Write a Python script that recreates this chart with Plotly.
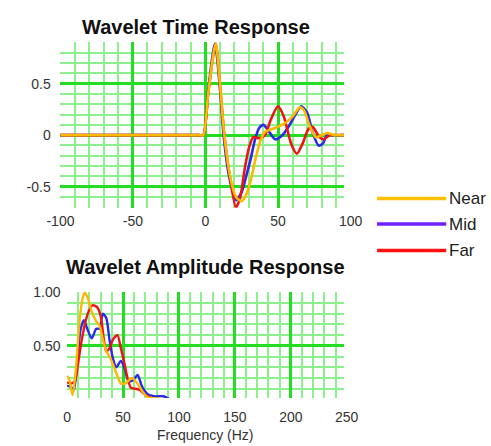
import plotly.graph_objects as go

# ---------------- data ----------------
series_names = ["Near", "Mid", "Far"]

# Wavelet time response (time, amplitude)
t_near = [-100, -60, -20, -8, -4, -1.5, 2, 7, 10, 13, 17, 21, 25, 28, 31, 35, 38, 41, 48, 55, 60, 65, 68, 71, 76, 80, 84, 89, 94, 100]
a_near = [0, 0, 0, 0, 0, 0, 0.42, 0.89, 0.5, 0.0, -0.4, -0.6, -0.64, -0.58, -0.45, -0.2, -0.05, 0.03, 0.07, 0.12, 0.18, 0.27, 0.24, 0.12, -0.02, 0.0, 0.02, 0, 0, 0]

t_mid = [-100, -60, -20, -8, -4, -1.5, 2, 6.5, 10, 12.5, 16, 21, 25, 28, 31, 34, 37, 40, 44, 48, 53, 58, 62, 66, 70, 74, 78, 81, 84, 88, 94, 100]
a_mid = [0, 0, 0, 0, 0, 0, 0.45, 0.89, 0.45, 0.0, -0.38, -0.63, -0.55, -0.4, -0.24, -0.05, 0.07, 0.10, 0.03, -0.04, 0.0, 0.1, 0.2, 0.28, 0.22, 0.02, -0.10, -0.08, 0.01, 0, 0, 0]

t_far = [-100, -60, -20, -8, -4, -1.5, 2, 7, 10, 13, 17, 21, 24, 27, 30, 33, 37, 41, 45, 50, 54, 59, 63, 67, 71, 74, 78, 81, 86, 92, 100]
a_far = [0, 0, 0, 0, 0, 0, 0.42, 0.89, 0.48, 0.0, -0.42, -0.70, -0.6, -0.33, -0.12, -0.02, -0.03, 0.0, 0.15, 0.28, 0.18, -0.08, -0.18, -0.08, 0.06, 0.08, -0.01, -0.04, 0, 0, 0]

# Wavelet amplitude response (frequency Hz, normalized amplitude)
f_near = [0, 2, 5, 8, 11, 14, 16, 19, 22, 26, 29, 32, 35, 38, 42, 45, 48, 52, 58, 62, 67, 72, 80, 90]
s_near = [0.22, 0.18, 0.04, 0.3, 0.72, 0.95, 1.0, 0.93, 0.82, 0.73, 0.69, 0.56, 0.45, 0.40, 0.3, 0.22, 0.15, 0.15, 0.2, 0.16, 0.08, 0.02, 0.01, 0]

f_mid = [0, 3, 6, 9, 12, 15, 18, 22, 26, 29, 32, 35, 38, 41, 44, 48, 51, 55, 59, 63, 67, 72, 78, 86, 92]
s_mid = [0.13, 0.12, 0.09, 0.35, 0.65, 0.74, 0.66, 0.57, 0.66, 0.66, 0.8, 0.76, 0.55, 0.38, 0.3, 0.36, 0.3, 0.17, 0.18, 0.23, 0.12, 0.05, 0.03, 0.03, 0]

f_far = [0, 4, 7, 10, 13, 17, 20, 23, 27, 30, 33, 35, 38, 41, 45, 48, 51, 54, 57, 61, 65, 69, 74, 82]
s_far = [0.16, 0.15, 0.17, 0.35, 0.55, 0.75, 0.84, 0.88, 0.86, 0.78, 0.55, 0.45, 0.48, 0.56, 0.6, 0.48, 0.35, 0.2, 0.11, 0.1, 0.09, 0.05, 0.02, 0]

time_ticks = [-100, -50, 0, 50]
time_tick_extra = 100
amp_ticks = [-0.5, 0, 0.5]
amp_tick_text = ["-0.5", "0", "0.5"]
freq_ticks = [0, 50, 100, 150, 200]
freq_tick_extra = 250
spec_ticks = [0.5, 1.0]
spec_tick_text = ["0.50", "1.00"]

titles = ["Wavelet Time Response", "Wavelet Amplitude Response"]
x_title_bottom = "Frequency (Hz)"

# ---------------- styles ----------------
plot_colors = {"Near": "#ffb800", "Mid": "#2a2ae8", "Far": "#ee1414"}
legend_colors = {"Near": "#ffc000", "Mid": "#7020ff", "Far": "#ff1010"}
major_grid = "#22dd22"
minor_grid = "#8cf08c"
FONT = "Liberation Sans, Arial, sans-serif"
W, H = 491, 446

def px_x(p):
    return p / W

def px_y(p):
    return 1 - p / H

x1_dom, x1_rng = [px_x(48), px_x(340)], [-100.5, 95.5]
x2_dom, x2_rng = [px_x(55), px_x(340)], [-0.5, 247.5]

def data_to_paper(v, dom, rng):
    return dom[0] + (v - rng[0]) / (rng[1] - rng[0]) * (dom[1] - dom[0])

fig = go.Figure()

time_data = {"Near": (t_near, a_near), "Mid": (t_mid, a_mid), "Far": (t_far, a_far)}
freq_data = {"Near": (f_near, s_near), "Mid": (f_mid, s_mid), "Far": (f_far, s_far)}

for name in ["Mid", "Far", "Near"]:
    tx, ty = time_data[name]
    fig.add_trace(go.Scatter(x=tx, y=ty, mode="lines", name=name, showlegend=False,
                             line=dict(color=plot_colors[name], width=2.6, shape="spline", smoothing=0.7),
                             xaxis="x", yaxis="y"))
for name in ["Mid", "Far", "Near"]:
    fx, fy = freq_data[name]
    fig.add_trace(go.Scatter(x=fx, y=fy, mode="lines", name=name, showlegend=False,
                             line=dict(color=plot_colors[name], width=2.4, shape="spline", smoothing=0.7),
                             xaxis="x2", yaxis="y2"))

tickfont = dict(family=FONT, size=14, color="#333333")

fig.update_layout(
    width=W, height=H,
    margin=dict(l=0, r=0, t=0, b=0),
    paper_bgcolor="white", plot_bgcolor="white",
    showlegend=False,
    xaxis=dict(domain=x1_dom, range=x1_rng, anchor="y",
               tickvals=time_ticks, ticktext=[str(v) for v in time_ticks],
               showgrid=True, gridcolor=major_grid, gridwidth=2.5,
               minor=dict(dtick=10, tick0=0, showgrid=True, gridcolor=minor_grid, gridwidth=1.5),
               zeroline=False, showline=False, ticks="", tickfont=tickfont, ticklabelstandoff=3),
    yaxis=dict(domain=[px_y(203.5), px_y(34.5)], range=[-0.705, 0.905], anchor="x",
               tickvals=amp_ticks, ticktext=amp_tick_text,
               showgrid=True, gridcolor=major_grid, gridwidth=2.5,
               minor=dict(dtick=0.1, tick0=0, showgrid=True, gridcolor=minor_grid, gridwidth=1.5),
               zeroline=False, showline=False, ticks="", tickfont=tickfont, ticklabelstandoff=8),
    xaxis2=dict(domain=x2_dom, range=x2_rng, anchor="y2",
                tickvals=freq_ticks, ticktext=[str(v) for v in freq_ticks],
                showgrid=True, gridcolor=major_grid, gridwidth=2.5,
                minor=dict(dtick=10, tick0=0, showgrid=True, gridcolor=minor_grid, gridwidth=1.5),
                zeroline=False, showline=False, ticks="", tickfont=tickfont, ticklabelstandoff=9,
                title=dict(text=x_title_bottom, font=dict(family=FONT, size=14, color="#333333"), standoff=6)),
    yaxis2=dict(domain=[px_y(397), px_y(289)], range=[0.015, 1.005], anchor="x2",
                tickvals=spec_ticks, ticktext=spec_tick_text,
                showgrid=True, gridcolor=major_grid, gridwidth=2.5,
                minor=dict(dtick=0.1, tick0=0, showgrid=True, gridcolor=minor_grid, gridwidth=1.5),
                zeroline=False, showline=False, ticks="", tickfont=tickfont, ticklabelstandoff=5),
)

annotations = [
    dict(text="<b>%s</b>" % titles[0], x=px_x(188), y=px_y(19), xref="paper", yref="paper",
         showarrow=False, xanchor="center", yanchor="middle",
         font=dict(family=FONT, size=20, color="#111111")),
    dict(text="<b>%s</b>" % titles[1], x=px_x(198), y=px_y(264), xref="paper", yref="paper",
         showarrow=False, xanchor="center", yanchor="middle",
         font=dict(family=FONT, size=20, color="#111111")),
    dict(text=str(time_tick_extra), x=data_to_paper(time_tick_extra, x1_dom, x1_rng), xref="paper",
         y=px_y(216.5), yref="paper",
         showarrow=False, xanchor="center", yanchor="middle", font=tickfont),
    dict(text=str(freq_tick_extra), x=data_to_paper(freq_tick_extra, x2_dom, x2_rng), xref="paper",
         y=px_y(416), yref="paper",
         showarrow=False, xanchor="center", yanchor="middle", font=tickfont),
]

shapes = []
legend_y = [194, 220, 247]
for name, ly in zip(series_names, legend_y):
    shapes.append(dict(type="line", xref="paper", yref="paper",
                       x0=px_x(374), x1=px_x(445), y0=px_y(ly), y1=px_y(ly),
                       line=dict(color=legend_colors[name], width=3.5)))
    annotations.append(dict(text=name, x=px_x(446), y=px_y(ly), xref="paper", yref="paper",
                            showarrow=False, xanchor="left", yanchor="middle",
                            font=dict(family=FONT, size=17, color="#222222")))

fig.update_layout(annotations=annotations, shapes=shapes)

fig.write_html("out.html")
